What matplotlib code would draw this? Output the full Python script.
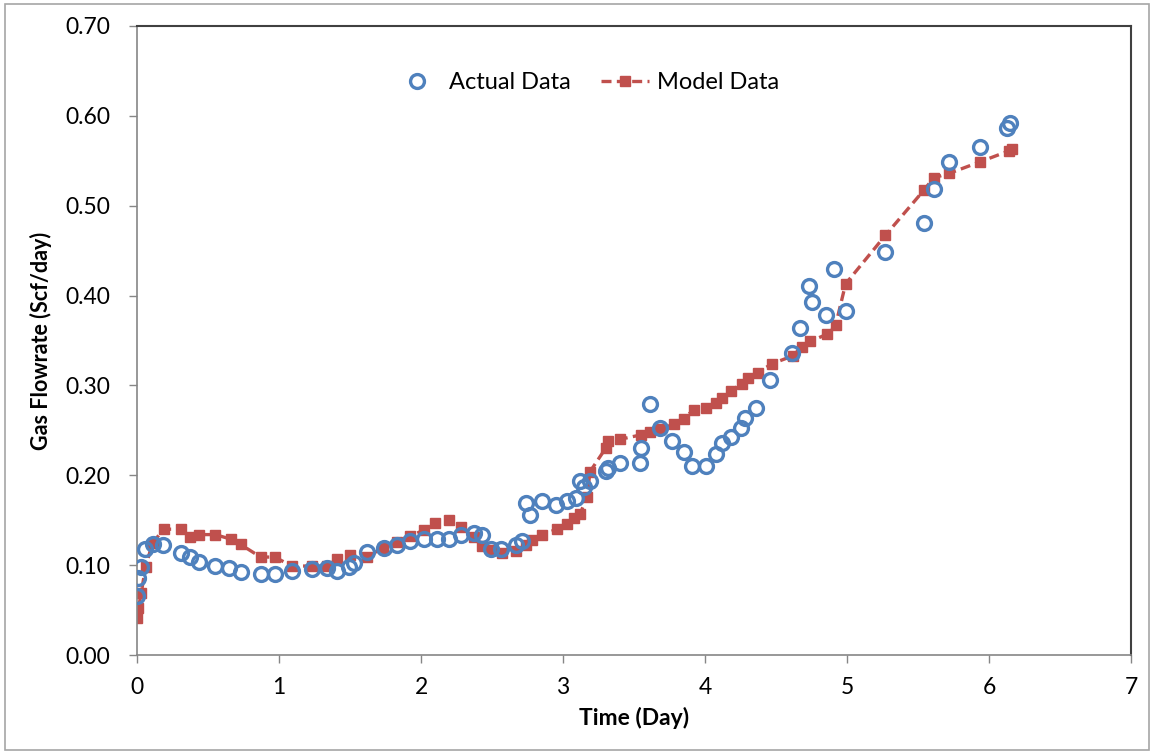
import matplotlib
matplotlib.use("Agg")
import matplotlib.pyplot as plt
from matplotlib.patches import Rectangle

# actual measurements
t_actual = [0.0, 0.007, 0.03, 0.056, 0.11, 0.18, 0.31, 0.37, 0.44, 0.55, 0.65, 0.73,
            0.87, 0.97, 1.09, 1.23, 1.34, 1.41, 1.49, 1.53, 1.62, 1.74, 1.83, 1.92,
            2.02, 2.11, 2.20, 2.28, 2.37, 2.43, 2.49, 2.56, 2.67, 2.71, 2.74, 2.77,
            2.85, 2.95, 3.03, 3.09, 3.12, 3.15, 3.19, 3.30, 3.32, 3.40, 3.54, 3.55,
            3.61, 3.68, 3.77, 3.85, 3.91, 4.01, 4.08, 4.12, 4.18, 4.25, 4.28, 4.36,
            4.46, 4.61, 4.67, 4.73, 4.75, 4.85, 4.91, 4.99, 5.27, 5.54, 5.61, 5.72,
            5.94, 6.13, 6.15]
q_actual = [0.066, 0.086, 0.098, 0.118, 0.123, 0.122, 0.113, 0.109, 0.103, 0.099, 0.097, 0.092,
            0.090, 0.090, 0.093, 0.096, 0.097, 0.093, 0.098, 0.102, 0.115, 0.119, 0.122, 0.127,
            0.129, 0.129, 0.129, 0.134, 0.136, 0.134, 0.118, 0.118, 0.122, 0.127, 0.169, 0.156,
            0.171, 0.167, 0.171, 0.175, 0.194, 0.187, 0.194, 0.205, 0.208, 0.214, 0.214, 0.230,
            0.279, 0.253, 0.238, 0.226, 0.210, 0.210, 0.224, 0.236, 0.243, 0.253, 0.264, 0.275,
            0.306, 0.336, 0.364, 0.411, 0.393, 0.378, 0.430, 0.383, 0.448, 0.481, 0.519, 0.549,
            0.565, 0.586, 0.592]

# model output
t_model = [0.0, 0.01, 0.03, 0.06, 0.11, 0.19, 0.31, 0.37, 0.44, 0.55, 0.66, 0.73,
           0.87, 0.97, 1.09, 1.23, 1.34, 1.41, 1.50, 1.62, 1.73, 1.83, 1.92, 2.02,
           2.10, 2.20, 2.28, 2.37, 2.43, 2.49, 2.57, 2.67, 2.74, 2.78, 2.85, 2.96,
           3.03, 3.08, 3.12, 3.17, 3.19, 3.30, 3.32, 3.40, 3.55, 3.61, 3.68, 3.78,
           3.85, 3.92, 4.01, 4.08, 4.12, 4.18, 4.26, 4.30, 4.37, 4.47, 4.62, 4.68,
           4.74, 4.86, 4.92, 4.99, 5.27, 5.54, 5.61, 5.72, 5.94, 6.14, 6.16]
q_model = [0.041, 0.052, 0.069, 0.098, 0.125, 0.140, 0.140, 0.131, 0.134, 0.134, 0.129, 0.123,
           0.109, 0.109, 0.099, 0.099, 0.099, 0.107, 0.111, 0.109, 0.119, 0.126, 0.132, 0.139,
           0.147, 0.150, 0.143, 0.131, 0.121, 0.117, 0.114, 0.116, 0.122, 0.128, 0.134, 0.140,
           0.146, 0.152, 0.157, 0.176, 0.204, 0.230, 0.238, 0.240, 0.245, 0.248, 0.251, 0.257,
           0.263, 0.273, 0.275, 0.281, 0.286, 0.294, 0.302, 0.308, 0.314, 0.324, 0.333, 0.343,
           0.349, 0.357, 0.367, 0.413, 0.467, 0.517, 0.531, 0.536, 0.549, 0.561, 0.563]

x_ticks = [0, 1, 2, 3, 4, 5, 6, 7]
y_ticks = [0.0, 0.1, 0.2, 0.3, 0.4, 0.5, 0.6, 0.7]

plt.rcParams['font.family'] = ['Lato', 'DejaVu Sans']

fig = plt.figure(figsize=(11.54, 7.52), dpi=100)
ax = fig.add_axes([137/1154, 1-655/752, (1131-137)/1154, (655-26)/752])

# outer chart border
fig.patches.append(Rectangle((5/1154, 2/752), 1144/1154, 746/752, transform=fig.transFigure,
                             fill=False, edgecolor='#a6a6a6', linewidth=1.2))

ax.plot(t_model, q_model, color='#c0504d', linestyle=(0, (3, 1.6)), linewidth=2.4,
        marker='s', markersize=6.5, markerfacecolor='#c0504d', markeredgecolor='#c0504d',
        label='Model Data', zorder=2)
ax.plot(t_actual, q_actual, linestyle='none', marker='o', markersize=10,
        markerfacecolor='none', markeredgecolor='#4f81bd', markeredgewidth=2.4,
        label='Actual Data', zorder=3)

ax.set_xlim(0, 7)
ax.set_ylim(0, 0.7)
ax.set_xticks(x_ticks)
ax.set_yticks(y_ticks)
ax.set_yticklabels(['%.2f' % v for v in y_ticks])
ax.tick_params(axis='both', direction='out', length=6, width=1, color='#868686',
               labelsize=16.5)
ax.tick_params(axis='y', pad=13)
ax.tick_params(axis='x', pad=10)

for side in ['left', 'bottom']:
    ax.spines[side].set_color('#868686')
    ax.spines[side].set_linewidth(1.2)
for side in ['top', 'right']:
    ax.spines[side].set_color('#404040')
    ax.spines[side].set_linewidth(1.5)

ax.set_xlabel('Time (Day)', fontsize=16.5, fontweight='bold', labelpad=6)
ax.set_ylabel('Gas Flowrate (Scf/day)', fontsize=15.5, fontweight='bold', labelpad=10)

h, l = ax.get_legend_handles_labels()
ax.legend(h[::-1], l[::-1], loc='upper center', bbox_to_anchor=(0.452, 0.96), ncol=2,
          frameon=False, fontsize=17, handlelength=2.0, columnspacing=1.3, handletextpad=0.35)

fig.savefig('out.png', dpi=100)
